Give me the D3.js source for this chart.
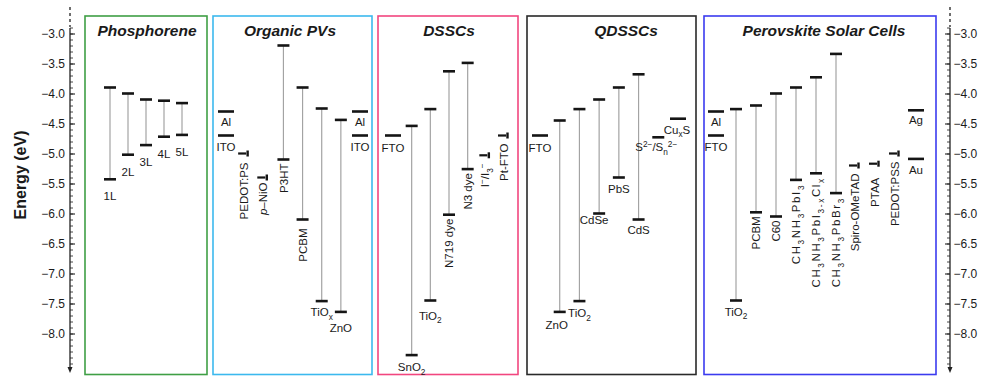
<!DOCTYPE html>
<html><head><meta charset="utf-8">
<script src="https://cdn.jsdelivr.net/npm/d3@7"></script>
<style>
body{margin:0;background:#fff}
svg{display:block}
text{font-family:"Liberation Sans",Arial,sans-serif;fill:#1a1a1a}
</style>
</head><body>
<svg id="c" width="982" height="376"></svg>
<script>
// ================= DATA =================
const panelTitles = ["Phosphorene", "Organic PVs", "DSSCs", "QDSSCs", "Perovskite Solar Cells"];

// Energy axis ticks (eV)
const majorTicks = [-3.0, -3.5, -4.0, -4.5, -5.0, -5.5, -6.0, -6.5, -7.0, -7.5, -8.0];

// --- Phosphorene ---
const phosColumns = ["1L", "2L", "3L", "4L", "5L"];
const phosGapNames = ["1L", "2L", "3L", "4L", "5L"];
const phosCB = [-3.9, -4.0, -4.1, -4.12, -4.16];
const phosVB = [-5.43, -5.02, -4.86, -4.72, -4.69];
const phosLevelNames = [];
const phosLevelCols = [];
const phosLevelValues = [];

// --- Organic PVs ---
const opvColumns = ["Al|ITO (anode side)", "PEDOT:PS", "*p*–NiO", "P3HT", "PCBM", "TiO_x", "ZnO", "Al|ITO (cathode side)"];
const opvGapNames = ["P3HT", "PCBM", "TiO_x", "ZnO"];
const opvCB = [-3.2, -3.9, -4.25, -4.44];
const opvVB = [-5.1, -6.1, -7.46, -7.64];
const opvLevelNames = ["Al", "ITO", "PEDOT:PS", "*p*–NiO", "Al", "ITO"];
const opvLevelCols = ["Al|ITO (anode side)", "Al|ITO (anode side)", "PEDOT:PS", "*p*–NiO", "Al|ITO (cathode side)", "Al|ITO (cathode side)"];
const opvLevelValues = [-4.3, -4.7, -5.0, -5.4, -4.3, -4.7];

// --- DSSCs ---
const dsscColumns = ["FTO", "SnO_2", "TiO_2", "N719 dye", "N3 dye", "I^−/I_3^−", "Pt-FTO"];
const dsscGapNames = ["SnO_2", "TiO_2", "N719 dye", "N3 dye"];
const dsscCB = [-4.54, -4.26, -3.63, -3.49];
const dsscVB = [-8.36, -7.45, -6.02, -5.26];
const dsscLevelNames = ["FTO", "I^−/I_3^−", "Pt-FTO"];
const dsscLevelCols = ["FTO", "I^−/I_3^−", "Pt-FTO"];
const dsscLevelValues = [-4.7, -5.03, -4.7];

// --- QDSSCs ---
const qdColumns = ["FTO", "ZnO", "TiO_2", "CdSe", "PbS", "CdS", "S^{2−}/S_n^{2−}", "Cu_xS"];
const qdGapNames = ["ZnO", "TiO_2", "CdSe", "PbS", "CdS"];
const qdCB = [-4.45, -4.26, -4.1, -3.9, -3.68];
const qdVB = [-7.64, -7.46, -6.0, -5.4, -6.1];
const qdLevelNames = ["FTO", "S^{2−}/S_n^{2−}", "Cu_xS"];
const qdLevelCols = ["FTO", "S^{2−}/S_n^{2−}", "Cu_xS"];
const qdLevelValues = [-4.7, -4.73, -4.42];

// --- Perovskite Solar Cells ---
const pskColumns = ["Al|FTO", "TiO_2", "PCBM", "C60", "CH_3NH_3PbI_3", "CH_3NH_3PbI_{3-x}Cl_x", "CH_3NH_3PbBr_3", "Spiro-OMeTAD", "PTAA", "PEDOT:PSS", "Ag|Au"];
const pskGapNames = ["TiO_2", "PCBM", "C60", "CH_3NH_3PbI_3", "CH_3NH_3PbI_{3-x}Cl_x", "CH_3NH_3PbBr_3"];
const pskCB = [-4.26, -4.2, -4.0, -3.9, -3.73, -3.34];
const pskVB = [-7.45, -5.98, -6.05, -5.44, -5.33, -5.66];
const pskLevelNames = ["Al", "FTO", "Spiro-OMeTAD", "PTAA", "PEDOT:PSS", "Ag", "Au"];
const pskLevelCols = ["Al|FTO", "Al|FTO", "Spiro-OMeTAD", "PTAA", "PEDOT:PSS", "Ag|Au", "Ag|Au"];
const pskLevelValues = [-4.3, -4.7, -5.2, -5.17, -5.0, -4.28, -5.09];

// ================= LAYOUT / STYLE =================
const boxTop = 16, boxBottom = 374.5;
const layout = [
  {box: [85, 207], range: [110, 182], color: "#3f9f45", titleX: 147, labelDy: 21},
  {box: [213, 372], range: [226, 360], color: "#3cb9ee", titleX: 290, labelDy: 15},
  {box: [378, 518], range: [393, 505], color: "#f2467f", titleX: 449, labelDy: 16},
  {box: [527, 696], range: [540, 678], color: "#2a2a2a", titleX: 626, labelDy: 16},
  {box: [704, 936], range: [716, 916], color: "#3b3bef", titleX: 824, labelDy: 15}
];
const panels = [
  {columns: phosColumns, gapNames: phosGapNames, cb: phosCB, vb: phosVB, levelNames: phosLevelNames, levelCols: phosLevelCols, levelValues: phosLevelValues},
  {columns: opvColumns, gapNames: opvGapNames, cb: opvCB, vb: opvVB, levelNames: opvLevelNames, levelCols: opvLevelCols, levelValues: opvLevelValues},
  {columns: dsscColumns, gapNames: dsscGapNames, cb: dsscCB, vb: dsscVB, levelNames: dsscLevelNames, levelCols: dsscLevelCols, levelValues: dsscLevelValues},
  {columns: qdColumns, gapNames: qdGapNames, cb: qdCB, vb: qdVB, levelNames: qdLevelNames, levelCols: qdLevelCols, levelValues: qdLevelValues},
  {columns: pskColumns, gapNames: pskGapNames, cb: pskCB, vb: pskVB, levelNames: pskLevelNames, levelCols: pskLevelCols, levelValues: pskLevelValues}
];

const rotatedLabels = new Set(["PEDOT:PS", "*p*–NiO", "P3HT", "PCBM", "N719 dye", "N3 dye", "I^−/I_3^−", "Pt-FTO",
  "C60", "CH_3NH_3PbI_3", "CH_3NH_3PbI_{3-x}Cl_x", "CH_3NH_3PbBr_3", "Spiro-OMeTAD", "PTAA", "PEDOT:PSS"]);
const spacedLabels = new Set(["CH_3NH_3PbI_3", "CH_3NH_3PbI_{3-x}Cl_x", "CH_3NH_3PbBr_3"]);
// fine label tweaks [dx, dy]
const labelTweak = {
  "1|ZnO": [0, 20], "2|TiO_2": [0, 19], "2|SnO_2": [0, 16],
  "3|ZnO": [-3, 17], "3|CdSe": [-5, 10], "3|PbS": [0, 15], "3|CdS": [0, 14],
  "3|S^{2−}/S_n^{2−}": [-2, 14], "3|Cu_xS": [-1, 15], "1|Al": [0, 14], "4|Al": [0, 14], "4|Ag": [0, 14]
};
const rotGap = {"1|PCBM": 9, "1|PEDOT:PS": 9, "1|*p*–NiO": 5, "4|PTAA": 14};

const FS = 11.5;
const BAR = "#151515", BARW = 2.6, GAP = "#a3a3a3";

const svg = d3.select("#c");
const y = d3.scaleLinear().domain([-3, -8]).range([33.5, 333.5]);

function rich(textSel, str, fs) {
  const segs = [];
  let i = 0, buf = "";
  while (i < str.length) {
    const c = str[i];
    if (c === "_" || c === "^") {
      if (buf) { segs.push({t: buf, m: "n"}); buf = ""; }
      let content;
      if (str[i + 1] === "{") { const j = str.indexOf("}", i); content = str.slice(i + 2, j); i = j + 1; }
      else { content = str[i + 1]; i += 2; }
      segs.push({t: content, m: c === "_" ? "sub" : "sup"});
    } else if (c === "*") {
      if (buf) { segs.push({t: buf, m: "n"}); buf = ""; }
      const j = str.indexOf("*", i + 1);
      segs.push({t: str.slice(i + 1, j), m: "it"});
      i = j + 1;
    } else { buf += c; i++; }
  }
  if (buf) segs.push({t: buf, m: "n"});
  let cur = 0;
  segs.forEach(s => {
    const target = s.m === "sub" ? fs * 0.3 : s.m === "sup" ? -fs * 0.4 : 0;
    const ts = textSel.append("tspan").text(s.t);
    if (target - cur !== 0) ts.attr("dy", target - cur);
    cur = target;
    if (s.m === "sub" || s.m === "sup") ts.attr("font-size", fs * 0.72);
    if (s.m === "it") ts.attr("font-style", "italic");
  });
}

function hbar(g, cx, yy, half) {
  g.append("line").attr("x1", cx - half).attr("x2", cx + half).attr("y1", yy).attr("y2", yy)
    .attr("stroke", BAR).attr("stroke-width", BARW);
}

function label(g, pi, name, cx, yy, single) {
  const rot = rotatedLabels.has(name);
  const t = g.append("text").attr("font-size", FS);
  if (rot) {
    const key = pi + "|" + name;
    const gap = rotGap[key] !== undefined ? rotGap[key] : (single ? 8 : 4);
    t.attr("text-anchor", "end")
     .attr("transform", `translate(${cx + FS * 0.36},${yy + gap}) rotate(-90)`);
    if (spacedLabels.has(name)) t.attr("letter-spacing", 1.6);
  } else {
    const tw = labelTweak[pi + "|" + name] || [0, layout[pi].labelDy];
    t.attr("text-anchor", "middle").attr("x", cx + tw[0]).attr("y", yy + tw[1]);
  }
  rich(t, name, FS);
}

panels.forEach((p, pi) => {
  const L = layout[pi];
  const x = d3.scalePoint().domain(p.columns).range(L.range);
  const g = svg.append("g");
  g.append("rect").attr("x", L.box[0]).attr("y", boxTop)
    .attr("width", L.box[1] - L.box[0]).attr("height", boxBottom - boxTop)
    .attr("fill", "none").attr("stroke", L.color).attr("stroke-width", 1.6);
  g.append("text").attr("x", L.titleX).attr("y", 36).attr("text-anchor", "middle")
    .attr("font-size", 15.5).attr("font-weight", "bold").attr("font-style", "italic")
    .text(panelTitles[pi]);

  // band-gap materials
  p.gapNames.forEach((n, k) => {
    const cx = x(n);
    g.append("line").attr("x1", cx).attr("x2", cx).attr("y1", y(p.cb[k])).attr("y2", y(p.vb[k]))
      .attr("stroke", GAP).attr("stroke-width", 1.2);
    hbar(g, cx, y(p.cb[k]), 6);
    hbar(g, cx, y(p.vb[k]), 6);
    label(g, pi, n, cx, y(p.vb[k]), false);
  });

  // single levels
  p.levelNames.forEach((n, k) => {
    const cx = x(p.levelCols[k]);
    const yy = y(p.levelValues[k]);
    if (rotatedLabels.has(n)) {
      g.append("line").attr("x1", cx - 7).attr("x2", cx + 1).attr("y1", yy).attr("y2", yy)
        .attr("stroke", BAR).attr("stroke-width", BARW * 0.85);
      g.append("line").attr("x1", cx + 2.5).attr("x2", cx + 2.5).attr("y1", yy - 3).attr("y2", yy + 3)
        .attr("stroke", BAR).attr("stroke-width", 2.4);
      label(g, pi, n, cx - 1, yy, true);
    } else {
      const half = n.startsWith("S^") ? 6 : 8;
      hbar(g, cx, yy, half);
      label(g, pi, n, cx, yy, true);
    }
  });
});

// ================= AXES =================
const minorTicks = d3.range(-29, -86, -1).map(v => v / 10);
function drawAxis(xPos, side) {
  const g = svg.append("g").attr("transform", `translate(${xPos},0)`);
  const mk = side === "left" ? d3.axisLeft : d3.axisRight;
  const gm = g.append("g").call(mk(y).tickValues(minorTicks).tickSizeInner(-3).tickSizeOuter(0).tickFormat(""));
  gm.select(".domain").remove();
  gm.selectAll("line").attr("stroke", "#333").attr("stroke-width", 0.9);
  const gM = g.append("g").call(mk(y).tickValues(majorTicks).tickSizeInner(-5).tickSizeOuter(0)
    .tickPadding(side === "left" ? 5 : 3.5).tickFormat(d3.format(".1f")));
  gM.select(".domain").remove();
  gM.selectAll("line").attr("stroke", "#222").attr("stroke-width", 1.1);
  gM.selectAll("text").attr("font-size", 12).attr("font-family", "Liberation Sans, Arial, sans-serif").attr("fill", "#222");
  g.append("line").attr("x1", 0).attr("x2", 0).attr("y1", 28).attr("y2", 368).attr("stroke", "#222").attr("stroke-width", 1.3);
  g.append("line").attr("x1", 0).attr("x2", 0).attr("y1", 7).attr("y2", 27).attr("stroke", "#222")
    .attr("stroke-width", 1.3).attr("stroke-dasharray", "3,3");
  g.append("path").attr("d", "M-2.5,367 L2.5,367 L0,373 Z").attr("fill", "#222");
}
drawAxis(70, "left");
drawAxis(950, "right");

svg.append("text").attr("transform", "translate(26,175) rotate(-90)").attr("text-anchor", "middle")
  .attr("font-size", 16).attr("font-weight", "bold").text("Energy (eV)");
</script>
</body></html>
